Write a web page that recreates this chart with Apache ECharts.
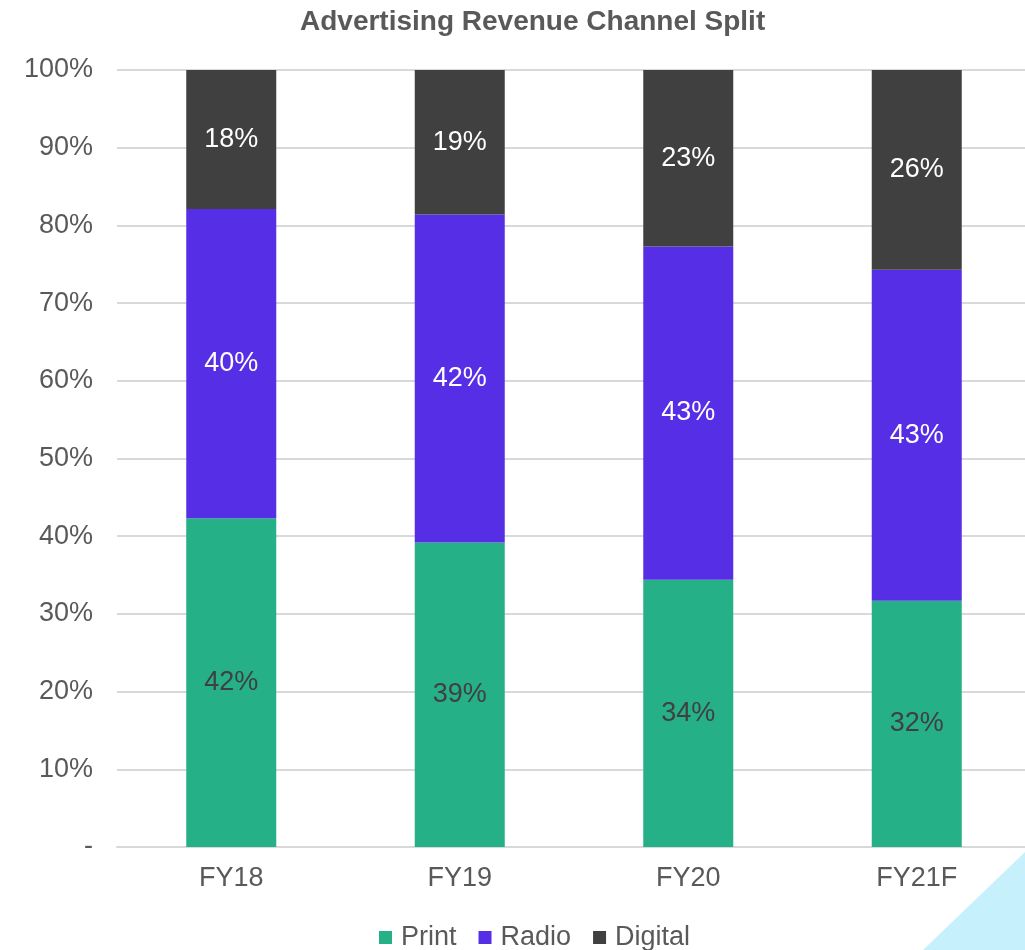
<!DOCTYPE html>
<html>
<head>
<meta charset="utf-8">
<script src="https://cdn.jsdelivr.net/npm/echarts@6/dist/echarts.min.js"></script>
<style>
  html, body { margin: 0; padding: 0; background: #fff; }
  #main { width: 1025px; height: 950px; }
</style>
</head>
<body>
<div id="main"></div>
<script>
// 数据
var categories = ['FY18', 'FY19', 'FY20', 'FY21F'];
var printData = [42.3, 39.2, 34.4, 31.7];
var radioData = [39.8, 42.2, 42.9, 42.6];
var digitalData = [17.9, 18.6, 22.7, 25.7];
var yTicks = [0, 10, 20, 30, 40, 50, 60, 70, 80, 90, 100];

var chart = echarts.init(document.getElementById('main'));
var FONT = 'Liberation Sans, Arial, sans-serif';

function makeSeries(name, data, color, labelColor) {
  return {
    name: name,
    type: 'bar',
    stack: 'total',
    barWidth: 90,
    data: data,
    itemStyle: { color: color },
    label: {
      show: true,
      position: 'inside',
      color: labelColor,
      fontSize: 27,
      fontFamily: FONT,
      formatter: function (p) { return Math.round(p.value) + '%'; }
    }
  };
}

chart.setOption({
  animation: false,
  title: {
    text: 'Advertising Revenue Channel Split',
    left: 295,
    top: 3,
    textStyle: { color: '#595959', fontSize: 28, fontWeight: 'bold', fontFamily: FONT }
  },
  legend: {
    top: 919,
    left: 374,
    itemWidth: 13,
    itemHeight: 13,
    itemGap: 22,
    icon: 'rect',
    textStyle: { color: '#595959', fontSize: 27, fontFamily: FONT, padding: [0, 0, 0, 4] },
    data: ['Print', 'Radio', 'Digital']
  },
  grid: { left: 117, width: 914, top: 70, bottom: 103, outerBoundsMode: 'none' },
  xAxis: {
    type: 'category',
    data: categories,
    axisTick: { show: false },
    axisLine: { lineStyle: { color: '#d9d9d9', width: 2 } },
    axisLabel: { color: '#595959', fontSize: 27, fontFamily: FONT, margin: 18 }
  },
  yAxis: {
    type: 'value',
    min: yTicks[0],
    max: yTicks[yTicks.length - 1],
    interval: 10,
    axisLine: { show: false },
    axisTick: { show: false },
    splitLine: { lineStyle: { color: '#d9d9d9', width: 2 } },
    axisLabel: {
      color: '#595959',
      fontSize: 27,
      fontFamily: FONT,
      margin: 24,
      formatter: function (v) { return v === 0 ? '-' : v + '%'; }
    }
  },
  graphic: [{
    type: 'polygon',
    shape: { points: [[923, 950], [1025, 852], [1025, 950]] },
    style: { fill: '#c6f0fc' },
    z: -1
  }],
  series: [
    makeSeries('Print', printData, '#26b087', '#404040'),
    makeSeries('Radio', radioData, '#562ee6', '#ffffff'),
    makeSeries('Digital', digitalData, '#404040', '#ffffff')
  ]
});
</script>
</body>
</html>
